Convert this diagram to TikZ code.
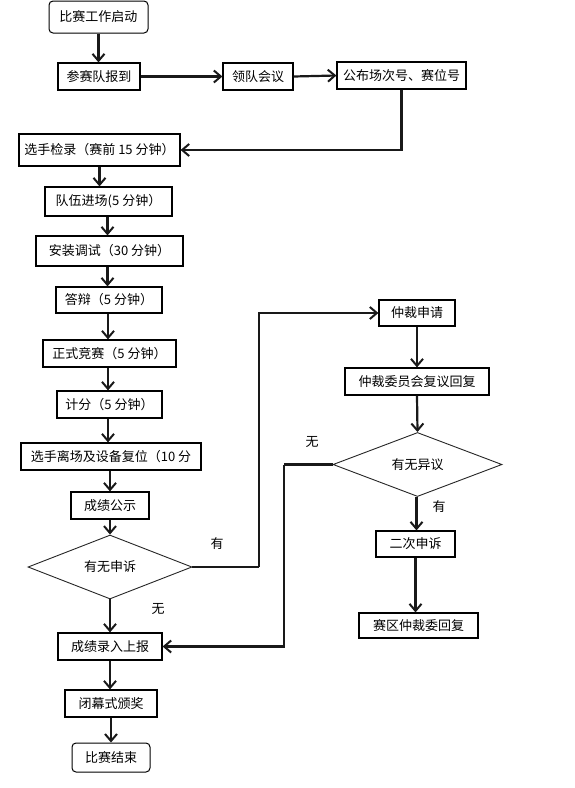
\documentclass[tikz,border=0pt]{standalone}
\usepackage{fontspec}
\newfontfamily\cjk{Noto Sans CJK SC}
\usetikzlibrary{arrows.meta,shapes.geometric}
\begin{document}
\begin{tikzpicture}[x=1pt,y=-1pt,
  box/.style={draw=black,line width=1.2pt,inner sep=0pt,font=\cjk\fontsize{13}{15}\selectfont},
  rbox/.style={box,line width=1pt,rounded corners=4pt},
  dia/.style={draw=black!85,line width=0.9pt,diamond,inner sep=0pt,font=\cjk\fontsize{13}{15}\selectfont},
  lbl/.style={inner sep=0pt,font=\cjk\fontsize{13}{15}\selectfont},
  arr/.style={line width=2.2pt,draw=black!90,-{Straight Barb[length=7pt,width=12pt,line width=2pt]}},
  ln/.style={line width=2.2pt,draw=black!90}]
\useasboundingbox[fill=white] (0,0) rectangle (574,788);
% left column
\node[rbox,minimum width=99pt,minimum height=32pt] (n1) at (98.5,17) {比赛工作启动};
\node[box,minimum width=82pt,minimum height=27pt] (n2) at (99,76.5) {参赛队报到};
\node[box,minimum width=70pt,minimum height=27pt] (n3) at (258,76.5) {领队会议};
\node[box,minimum width=129pt,minimum height=27pt] (n4) at (401.5,75.5) {公布场次号、赛位号};
\node[box,minimum width=161pt,minimum height=32pt] (n5) at (99.5,150) {选手检录（赛前 15 分钟）};
\node[box,minimum width=127pt,minimum height=29pt] (n6) at (108.5,201.5) {队伍进场(5 分钟）};
\node[box,minimum width=147pt,minimum height=30pt] (n7) at (109.5,251) {安装调试（30 分钟）};
\node[box,minimum width=106pt,minimum height=26pt] (n8) at (109,300) {答辩（5 分钟）};
\node[box,minimum width=133pt,minimum height=27pt] (n9) at (109.5,353.5) {正式竞赛（5 分钟）};
\node[box,minimum width=105pt,minimum height=27pt] (n10) at (109.5,404.5) {计分（5 分钟）};
\node[box,minimum width=180pt,minimum height=27pt] (n11) at (111,456.5) {选手离场及设备复位（10 分};
\node[box,minimum width=78pt,minimum height=27pt] (n12) at (110,505.5) {成绩公示};
\node[dia,minimum width=164pt,minimum height=54pt] (d1) at (110,567) {有无申诉};
\node[box,minimum width=104pt,minimum height=27pt] (n13) at (110,646.5) {成绩录入上报};
\node[box,minimum width=92pt,minimum height=27pt] (n14) at (111,703.5) {闭幕式颁奖};
\node[rbox,minimum width=78pt,minimum height=29pt] (n15) at (111,757.5) {比赛结束};
% right column
\node[box,minimum width=76pt,minimum height=26pt] (n16) at (417,313) {仲裁申请};
\node[box,minimum width=144pt,minimum height=27pt] (n17) at (417,381.5) {仲裁委员会复议回复};
\node[dia,minimum width=169pt,minimum height=53pt] (d2) at (417.5,464.5) {有无异议};
\node[box,minimum width=79pt,minimum height=26pt] (n18) at (415.5,544) {二次申诉};
\node[box,minimum width=119pt,minimum height=25pt] (n19) at (418.5,625.5) {赛区仲裁委回复};
% labels
\node[lbl] (l1) at (217,544) {有};
\node[lbl] (l2) at (158,609) {无};
\node[lbl] (l3) at (312,442) {无};
\node[lbl] (l4) at (439,507) {有};
% junctions
\coordinate (j1) at (259,567);
\coordinate (j2) at (284,464.5);
% connectors
\draw[arr] (n1.south) -- (n1.south |- n2.north);
\draw[arr] (n2.east) -- (n3.west);
\draw[arr] (n3.east) -- (n4.west);
\draw[arr] (n4.south) |- (n5.east);
\draw[arr] (n5.south) -- (n5.south |- n6.north);
\draw[arr] ([xshift=-1pt]n6.south) -- ([xshift=-1pt]n6.south |- n7.north);
\draw[arr] ([xshift=-2pt]n7.south) -- ([xshift=-2pt]n7.south |- n8.north);
\draw[arr] ([xshift=-1pt]n8.south) -- ([xshift=-1pt]n8.south |- n9.north);
\draw[arr] ([xshift=-1.5pt]n9.south) -- ([xshift=-1.5pt]n9.south |- n10.north);
\draw[arr] ([xshift=-1.5pt]n10.south) -- ([xshift=-1.5pt]n10.south |- n11.north);
\draw[arr] ([xshift=-1pt]n11.south) -- ([xshift=-1pt]n11.south |- n12.north);
\draw[arr] (n12.south) -- (d1.north);
\draw[arr] (d1.south) -- (d1.south |- n13.north);
\draw[arr] (n13.south) -- (n13.south |- n14.north);
\draw[arr] (n14.south) -- (n14.south |- n15.north);
\draw[ln] (d1.east) -- (j1);
\draw[arr] (j1) |- (n16.west);
\draw[arr] (n16.south) -- (n16.south |- n17.north);
\draw[arr] (n17.south) -- (d2.north);
\draw[arr] ([xshift=-1pt]d2.south) -- ([xshift=-1pt]d2.south |- n18.north);
\draw[arr] (n18.south) -- (n18.south |- n19.north);
\draw[ln] (d2.west) -- (j2);
\draw[arr] (j2) |- (n13.east);
\end{tikzpicture}
\end{document}
